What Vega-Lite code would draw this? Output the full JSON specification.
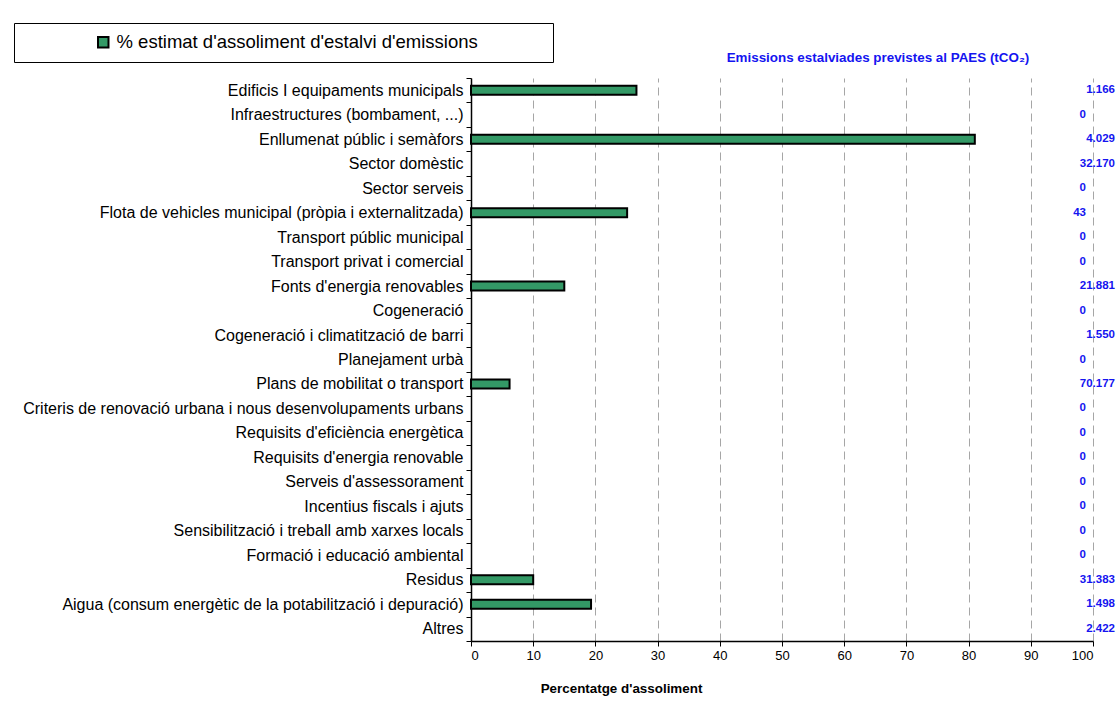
{
  "$schema": "https://vega.github.io/schema/vega-lite/v6.json",
  "autosize": "none",
  "width": 622,
  "height": 563,
  "padding": {"left": 471, "top": 78, "right": 24, "bottom": 86},
  "background": "white",
  "config": {
    "font": "Liberation Sans",
    "view": {"stroke": null}
  },
  "title": {
    "text": "Emissions estalviades previstes al PAES (tCO₂)",
    "color": "#1414F0",
    "fontSize": 13.4,
    "fontWeight": "bold",
    "font": "Liberation Sans",
    "anchor": "middle",
    "dx": 96,
    "dy": 56,
    "offset": 14
  },
  "data": {
    "values": [
      {"categoria": "Edificis I equipaments municipals", "pct": 26.6, "emissions": 1166, "etiqueta": "1.166", "serie": "% estimat d'assoliment d'estalvi d'emissions"},
      {"categoria": "Infraestructures (bombament, ...)", "pct": null, "emissions": 0, "etiqueta": "0", "serie": "% estimat d'assoliment d'estalvi d'emissions"},
      {"categoria": "Enllumenat públic i semàfors", "pct": 81.0, "emissions": 4029, "etiqueta": "4.029", "serie": "% estimat d'assoliment d'estalvi d'emissions"},
      {"categoria": "Sector domèstic", "pct": null, "emissions": 32170, "etiqueta": "32.170", "serie": "% estimat d'assoliment d'estalvi d'emissions"},
      {"categoria": "Sector serveis", "pct": null, "emissions": 0, "etiqueta": "0", "serie": "% estimat d'assoliment d'estalvi d'emissions"},
      {"categoria": "Flota de vehicles municipal (pròpia i externalitzada)", "pct": 25.1, "emissions": 43, "etiqueta": "43", "serie": "% estimat d'assoliment d'estalvi d'emissions"},
      {"categoria": "Transport públic municipal ", "pct": null, "emissions": 0, "etiqueta": "0", "serie": "% estimat d'assoliment d'estalvi d'emissions"},
      {"categoria": "Transport privat i comercial", "pct": null, "emissions": 0, "etiqueta": "0", "serie": "% estimat d'assoliment d'estalvi d'emissions"},
      {"categoria": "Fonts d'energia renovables", "pct": 15.0, "emissions": 21881, "etiqueta": "21.881", "serie": "% estimat d'assoliment d'estalvi d'emissions"},
      {"categoria": "Cogeneració", "pct": null, "emissions": 0, "etiqueta": "0", "serie": "% estimat d'assoliment d'estalvi d'emissions"},
      {"categoria": "Cogeneració i climatització de barri", "pct": null, "emissions": 1550, "etiqueta": "1.550", "serie": "% estimat d'assoliment d'estalvi d'emissions"},
      {"categoria": "Planejament urbà", "pct": null, "emissions": 0, "etiqueta": "0", "serie": "% estimat d'assoliment d'estalvi d'emissions"},
      {"categoria": "Plans de mobilitat o transport", "pct": 6.2, "emissions": 70177, "etiqueta": "70.177", "serie": "% estimat d'assoliment d'estalvi d'emissions"},
      {"categoria": "Criteris de renovació urbana i nous desenvolupaments urbans", "pct": null, "emissions": 0, "etiqueta": "0", "serie": "% estimat d'assoliment d'estalvi d'emissions"},
      {"categoria": "Requisits d'eficiència energètica", "pct": null, "emissions": 0, "etiqueta": "0", "serie": "% estimat d'assoliment d'estalvi d'emissions"},
      {"categoria": "Requisits d'energia renovable", "pct": null, "emissions": 0, "etiqueta": "0", "serie": "% estimat d'assoliment d'estalvi d'emissions"},
      {"categoria": "Serveis d'assessorament", "pct": null, "emissions": 0, "etiqueta": "0", "serie": "% estimat d'assoliment d'estalvi d'emissions"},
      {"categoria": "Incentius fiscals i ajuts", "pct": null, "emissions": 0, "etiqueta": "0", "serie": "% estimat d'assoliment d'estalvi d'emissions"},
      {"categoria": "Sensibilització i treball amb xarxes locals", "pct": null, "emissions": 0, "etiqueta": "0", "serie": "% estimat d'assoliment d'estalvi d'emissions"},
      {"categoria": "Formació i educació ambiental", "pct": null, "emissions": 0, "etiqueta": "0", "serie": "% estimat d'assoliment d'estalvi d'emissions"},
      {"categoria": "Residus", "pct": 10.0, "emissions": 31383, "etiqueta": "31.383", "serie": "% estimat d'assoliment d'estalvi d'emissions"},
      {"categoria": "Aigua (consum energètic de la potabilització i depuració)", "pct": 19.3, "emissions": 1498, "etiqueta": "1.498", "serie": "% estimat d'assoliment d'estalvi d'emissions"},
      {"categoria": "Altres", "pct": null, "emissions": 2422, "etiqueta": "2.422", "serie": "% estimat d'assoliment d'estalvi d'emissions"}
    ]
  },
  "encoding": {
    "y": {
      "field": "categoria",
      "type": "nominal",
      "scale": {
        "domain": [
          "Edificis I equipaments municipals",
          "Infraestructures (bombament, ...)",
          "Enllumenat públic i semàfors",
          "Sector domèstic",
          "Sector serveis",
          "Flota de vehicles municipal (pròpia i externalitzada)",
          "Transport públic municipal ",
          "Transport privat i comercial",
          "Fonts d'energia renovables",
          "Cogeneració",
          "Cogeneració i climatització de barri",
          "Planejament urbà",
          "Plans de mobilitat o transport",
          "Criteris de renovació urbana i nous desenvolupaments urbans",
          "Requisits d'eficiència energètica",
          "Requisits d'energia renovable",
          "Serveis d'assessorament",
          "Incentius fiscals i ajuts",
          "Sensibilització i treball amb xarxes locals",
          "Formació i educació ambiental",
          "Residus",
          "Aigua (consum energètic de la potabilització i depuració)",
          "Altres"
        ],
        "paddingInner": 0,
        "paddingOuter": 0
      },
      "axis": {
        "title": null,
        "tickBand": "extent",
        "tickSize": 5,
        "tickColor": "#000000",
        "domainColor": "#000000",
        "domainWidth": 1.5,
        "labelFontSize": 16,
        "labelColor": "#000000",
        "labelPadding": 3,
        "labelLimit": 600,
        "grid": false
      }
    }
  },
  "layer": [
    {
      "mark": {"type": "bar", "size": 9, "stroke": "#000000", "strokeWidth": 2},
      "encoding": {
        "x": {
          "field": "pct",
          "type": "quantitative",
          "scale": {"domain": [0, 100], "nice": false},
          "axis": {
            "values": [0, 10, 20, 30, 40, 50, 60, 70, 80, 90, 100],
            "title": "Percentatge d'assoliment",
            "titleFontSize": 13.4,
            "titleFontWeight": "bold",
            "titleColor": "#000000",
            "titleX": 150,
            "titleY": 47,
            "titleBaseline": "middle",
            "labelFontSize": 13,
            "labelColor": "#000000",
            "labelPadding": 3,
            "tickSize": 5,
            "tickColor": "#000000",
            "domainColor": "#000000",
            "domainWidth": 1.5,
            "grid": true,
            "gridDash": [8, 5],
            "gridColor": "#a6a6a6",
            "gridWidth": 1
          }
        },
        "fill": {
          "field": "serie",
          "type": "nominal",
          "scale": {"range": ["#339966"]},
          "legend": {
            "title": "\u00a0",
            "titleOrient": "right",
            "titlePadding": 65,
            "titleFontSize": 10,
            "orient": "none",
            "legendX": -457,
            "legendY": -55,
            "padding": 10,
            "strokeColor": "#000000",
            "fillColor": "#ffffff",
            "symbolType": "square",
            "symbolSize": 110,
            "symbolStrokeColor": "#000000",
            "symbolStrokeWidth": 2,
            "symbolOffset": 70,
            "labelFontSize": 18.5,
            "labelColor": "#000000",
            "labelOffset": 4,
            "labelLimit": 800
          }
        }
      }
    },
    {
      "transform": [{"filter": "datum.emissions >= 1000"}],
      "mark": {"type": "text", "align": "right", "baseline": "middle", "dx": 22, "fontSize": 11.5, "fontWeight": "bold", "color": "#1414F0"},
      "encoding": {
        "x": {"datum": 100, "type": "quantitative"},
        "text": {"field": "etiqueta", "type": "nominal"}
      }
    },
    {
      "transform": [{"filter": "datum.emissions < 1000"}],
      "mark": {"type": "text", "align": "right", "baseline": "middle", "dx": -7, "fontSize": 11.5, "fontWeight": "bold", "color": "#1414F0"},
      "encoding": {
        "x": {"datum": 100, "type": "quantitative"},
        "text": {"field": "etiqueta", "type": "nominal"}
      }
    }
  ]
}
